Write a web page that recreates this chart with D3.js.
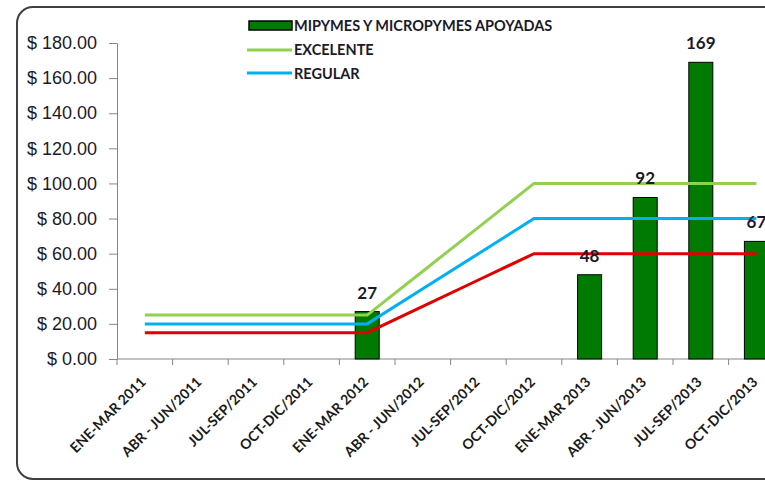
<!DOCTYPE html>
<html>
<head>
<meta charset="utf-8">
<script src="https://cdn.jsdelivr.net/npm/d3@7"></script>
<style>
  body { margin: 0; background: #fff; }
  svg { display: block; font-family: Lato, "Noto Sans", sans-serif; }
</style>
</head>
<body>
<svg width="765" height="482"></svg>
<script>
var categories = ["ENE-MAR 2011", "ABR - JUN/2011", "JUL-SEP/2011", "OCT-DIC/2011",
    "ENE-MAR 2012", "ABR - JUN/2012", "JUL-SEP/2012", "OCT-DIC/2012",
    "ENE-MAR 2013", "ABR - JUN/2013", "JUL-SEP/2013", "OCT-DIC/2013"];
var apoyadas = [null, null, null, null, 27, null, null, null, 48, 92, 169, 67];
var excelente = [25, 25, 25, 25, 25, 50, 75, 100, 100, 100, 100, 100];
var regular = [20, 20, 20, 20, 20, 40, 60, 80, 80, 80, 80, 80];
var minimo = [15, 15, 15, 15, 15, 30, 45, 60, 60, 60, 60, 60];
var yTicks = [0, 20, 40, 60, 80, 100, 120, 140, 160, 180];

var svg = d3.select("svg");

// frame (runs off the right edge like the original)
svg.append("rect")
    .attr("x", 17).attr("y", 7)
    .attr("width", 800).attr("height", 472)
    .attr("rx", 16)
    .attr("fill", "#fff")
    .attr("stroke", "#404040")
    .attr("stroke-width", 2);

var x = d3.scaleBand()
    .domain(categories)
    .range([117, 117 + 55.6 * 12])
    .paddingInner(0).paddingOuter(0);

var y = d3.scaleLinear()
    .domain([0, 180])
    .range([359, 43]);

// y axis
var yAxis = svg.append("g")
    .attr("transform", "translate(117,0)")
    .call(d3.axisLeft(y).tickValues(yTicks).tickSize(8).tickPadding(12)
        .tickFormat(function (d) { return "$ " + d3.format(".2f")(d); }));
yAxis.selectAll("path, line").attr("stroke", "#868686");
yAxis.selectAll("text")
    .attr("fill", "#1a1a2a")
    .style("font-size", "18px");
yAxis.select(".domain").attr("d", "M-8,43.5H0.5V359.5");

// x axis
var xAxis = svg.append("g")
    .attr("transform", "translate(0,359)");
xAxis.append("line")
    .attr("x1", 117).attr("x2", 790)
    .attr("stroke", "#868686");
xAxis.selectAll(".tk")
    .data(categories)
    .enter().append("line")
    .attr("class", "tk")
    .attr("x1", function (d) { return x(d); })
    .attr("x2", function (d) { return x(d); })
    .attr("y1", 0).attr("y2", 6)
    .attr("stroke", "#868686");
xAxis.selectAll(".lbl")
    .data(categories)
    .enter().append("text")
    .attr("class", "lbl")
    .attr("text-anchor", "end")
    .attr("transform", function (d) {
        return "translate(" + (x(d) + x.bandwidth() / 2 + 2) + ",24) rotate(-45)";
    })
    .attr("fill", "#1a1a1a")
    .style("font-size", "14px")
    .style("font-weight", "bold")
    .text(function (d) { return d; });

// bars
var barW = 24;
var barData = categories.map(function (c, i) { return { cat: c, v: apoyadas[i] }; })
    .filter(function (d) { return d.v !== null; });

svg.selectAll(".bar")
    .data(barData)
    .enter().append("rect")
    .attr("class", "bar")
    .attr("x", function (d) { return x(d.cat) + x.bandwidth() / 2 - barW / 2; })
    .attr("y", function (d) { return y(d.v); })
    .attr("width", barW)
    .attr("height", function (d) { return y(0) - y(d.v); })
    .attr("fill", "#007a00")
    .attr("stroke", "#000")
    .attr("stroke-width", 1);

// lines
var line = d3.line()
    .x(function (d, i) { return x(categories[i]) + x.bandwidth() / 2; })
    .y(function (d) { return y(d); });

var series = [
    { vals: excelente, color: "#92d050" },
    { vals: regular, color: "#00b0f0" },
    { vals: minimo, color: "#e00000" }
];
series.forEach(function (s) {
    svg.append("path")
        .datum(s.vals)
        .attr("d", line)
        .attr("fill", "none")
        .attr("stroke", s.color)
        .attr("stroke-width", 3);
});

// bar labels
svg.selectAll(".val")
    .data(barData)
    .enter().append("text")
    .attr("class", "val")
    .attr("x", function (d) { return x(d.cat) + x.bandwidth() / 2; })
    .attr("y", function (d) { return y(d.v) - 13; })
    .attr("text-anchor", "middle")
    .attr("fill", "#1a1a2a")
    .style("font-size", "17px")
    .style("font-weight", "bold")
    .text(function (d) { return d.v; });

// legend
var legend = svg.append("g");
legend.append("rect")
    .attr("x", 249).attr("y", 21)
    .attr("width", 43).attr("height", 9)
    .attr("fill", "#007a00")
    .attr("stroke", "#000")
    .attr("stroke-width", 1.5);
legend.append("line")
    .attr("x1", 247).attr("x2", 292).attr("y1", 50).attr("y2", 50)
    .attr("stroke", "#92d050").attr("stroke-width", 3);
legend.append("line")
    .attr("x1", 247).attr("x2", 292).attr("y1", 73).attr("y2", 73)
    .attr("stroke", "#00b0f0").attr("stroke-width", 3);
var legendLabels = ["MIPYMES Y MICROPYMES APOYADAS", "EXCELENTE", "REGULAR"];
legend.selectAll("text")
    .data(legendLabels)
    .enter().append("text")
    .attr("x", 294)
    .attr("y", function (d, i) { return 31 + i * 24; })
    .attr("fill", "#1a1a2a")
    .style("font-size", "14.5px")
    .style("font-weight", "bold")
    .text(function (d) { return d; });
</script>
</body>
</html>
